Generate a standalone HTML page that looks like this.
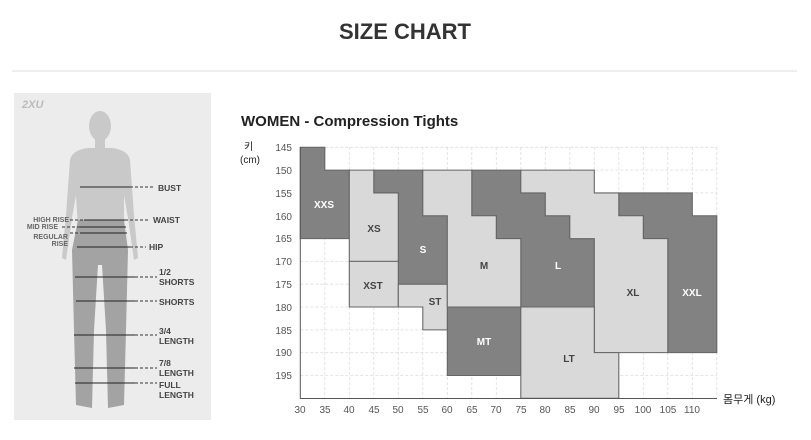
<!DOCTYPE html>
<html><head><meta charset="utf-8"><style>
body{margin:0;width:811px;height:435px;background:#fff;overflow:hidden;font-family:"Liberation Sans","Noto Sans CJK KR",sans-serif}
</style></head><body>
<svg width="811" height="435" xmlns="http://www.w3.org/2000/svg" font-family="Liberation Sans, Noto Sans CJK KR, sans-serif">
<text x="405" y="39" text-anchor="middle" font-size="22" font-weight="bold" fill="#333">SIZE CHART</text>
<line x1="12" y1="71" x2="797" y2="71" stroke="#ddd"/>
<!-- figure panel -->
<rect x="14" y="93" width="197" height="327" fill="#ececec"/>
<text x="22" y="108" font-size="11" font-style="italic" fill="#bbb" font-weight="bold">2XU</text>
<g fill="#c9c9c9">
<ellipse cx="100" cy="126" rx="11" ry="15"/>
<rect x="95" y="138" width="10" height="12"/>
<path d="M70 160 Q72 150 88 148 L112 148 Q128 150 130 160 L134 215 L138 258 L134 260 L128 218 L124 195 L124 230 L78 230 L76 195 L72 218 L66 260 L62 258 L66 215 Z"/>
</g>
<path d="M78 220 L124 220 L128 250 L126 330 L124 405 L108 408 L106 330 L102 265 L98 265 L94 330 L92 408 L76 405 L74 330 L72 250 Z" fill="#a3a3a3"/>
<g stroke="#222" stroke-width="1">
<line x1="80" y1="187" x2="130" y2="187"/><line x1="84" y1="220" x2="125" y2="220"/>
<line x1="80" y1="227" x2="126" y2="227"/><line x1="80" y1="233" x2="127" y2="233"/>
<line x1="77" y1="247" x2="130" y2="247"/><line x1="75" y1="277" x2="135" y2="277"/>
<line x1="76" y1="301" x2="135" y2="301"/><line x1="74" y1="335" x2="135" y2="335"/>
<line x1="74" y1="368" x2="135" y2="368"/><line x1="75" y1="383" x2="135" y2="383"/>
</g>
<g stroke="#333" stroke-dasharray="3,2">
<line x1="130" y1="187" x2="155" y2="187"/><line x1="125" y1="220" x2="150" y2="220"/>
<line x1="130" y1="247" x2="146" y2="247"/><line x1="135" y1="277" x2="157" y2="277"/>
<line x1="135" y1="301" x2="157" y2="301"/><line x1="135" y1="335" x2="157" y2="335"/>
<line x1="135" y1="368" x2="157" y2="368"/><line x1="135" y1="383" x2="157" y2="383"/>
<line x1="70" y1="220" x2="84" y2="220"/><line x1="62" y1="227" x2="80" y2="227"/><line x1="70" y1="233" x2="80" y2="233"/>
</g>
<g font-size="8.5" font-weight="bold" fill="#444">
<text x="158" y="191">BUST</text><text x="153" y="223">WAIST</text><text x="149" y="250">HIP</text>
<text x="159" y="275">1/2</text><text x="159" y="285">SHORTS</text><text x="159" y="305">SHORTS</text>
<text x="159" y="334">3/4</text><text x="159" y="344">LENGTH</text>
<text x="159" y="366">7/8</text><text x="159" y="376">LENGTH</text>
<text x="159" y="388">FULL</text><text x="159" y="398">LENGTH</text>
<g font-size="7" fill="#666" text-anchor="end"><text x="69" y="222">HIGH RISE</text><text x="58" y="229">MID RISE</text><text x="68" y="239">REGULAR</text><text x="68" y="246">RISE</text></g>
</g>
<text x="241" y="126" font-size="15" font-weight="bold" fill="#222">WOMEN - Compression Tights</text>
<text x="244" y="150" font-size="10" fill="#222">키</text>
<text x="240" y="163" font-size="10" fill="#222">(cm)</text>
<!-- grid -->
<g stroke="#ddd" stroke-dasharray="3,2" stroke-width="0.8">
<line x1="300.3" y1="147.3" x2="716.8" y2="147.3"/><line x1="300.3" y1="170.1" x2="716.8" y2="170.1"/><line x1="300.3" y1="192.9" x2="716.8" y2="192.9"/><line x1="300.3" y1="215.8" x2="716.8" y2="215.8"/><line x1="300.3" y1="238.6" x2="716.8" y2="238.6"/><line x1="300.3" y1="261.4" x2="716.8" y2="261.4"/><line x1="300.3" y1="284.2" x2="716.8" y2="284.2"/><line x1="300.3" y1="307.0" x2="716.8" y2="307.0"/><line x1="300.3" y1="329.9" x2="716.8" y2="329.9"/><line x1="300.3" y1="352.7" x2="716.8" y2="352.7"/><line x1="300.3" y1="375.5" x2="716.8" y2="375.5"/>
<line x1="324.8" y1="147" x2="324.8" y2="398"/><line x1="349.3" y1="147" x2="349.3" y2="398"/><line x1="373.8" y1="147" x2="373.8" y2="398"/><line x1="398.3" y1="147" x2="398.3" y2="398"/><line x1="422.8" y1="147" x2="422.8" y2="398"/><line x1="447.3" y1="147" x2="447.3" y2="398"/><line x1="471.8" y1="147" x2="471.8" y2="398"/><line x1="496.3" y1="147" x2="496.3" y2="398"/><line x1="520.8" y1="147" x2="520.8" y2="398"/><line x1="545.3" y1="147" x2="545.3" y2="398"/><line x1="569.8" y1="147" x2="569.8" y2="398"/><line x1="594.3" y1="147" x2="594.3" y2="398"/><line x1="618.8" y1="147" x2="618.8" y2="398"/><line x1="643.3" y1="147" x2="643.3" y2="398"/><line x1="667.8" y1="147" x2="667.8" y2="398"/><line x1="692.3" y1="147" x2="692.3" y2="398"/><line x1="716.8" y1="147" x2="716.8" y2="398"/>
</g>
<g transform="translate(300.3,147.3) scale(4.9,4.5636) translate(-30,-145)" stroke="#666" stroke-width="0.22">
<g fill="#828282">
<polygon points="30,145 35,145 35,150 40,150 40,165 30,165"/>
<polygon points="45,150 55,150 55,160 60,160 60,175 50,175 50,155 45,155"/>
<polygon points="60,180 75,180 75,195 60,195"/>
<polygon points="65,150 75,150 75,155 80,155 80,160 85,160 85,165 90,165 90,180 75,180 75,165 70,165 70,160 65,160"/>
<polygon points="95,155 110,155 110,160 115,160 115,190 105,190 105,165 100,165 100,160 95,160"/>
</g>
<g fill="#d9d9d9">
<polygon points="40,150 45,150 45,155 50,155 50,170 40,170"/>
<polygon points="40,170 50,170 50,180 40,180"/>
<polygon points="50,175 60,175 60,185 55,185 55,180 50,180"/>
<polygon points="55,150 65,150 65,160 70,160 70,165 75,165 75,180 60,180 60,160 55,160"/>
<polygon points="75,150 90,150 90,155 95,155 95,160 100,160 100,165 105,165 105,190 90,190 90,165 85,165 85,160 80,160 80,155 75,155"/>
<polygon points="75,180 90,180 90,190 95,190 95,200 75,200"/>
</g>
</g>
<g stroke="#555" stroke-width="1"><line x1="300.3" y1="147" x2="300.3" y2="398.5"/><line x1="300" y1="398.5" x2="717" y2="398.5"/></g>
<g font-size="10" font-weight="bold" text-anchor="middle">
<g fill="#fff"><text x="324" y="208">XXS</text><text x="423" y="253">S</text><text x="484" y="345">MT</text><text x="558" y="269">L</text><text x="692" y="296">XXL</text></g>
<g fill="#444"><text x="374" y="232">XS</text><text x="373" y="289">XST</text><text x="435" y="305">ST</text><text x="484" y="269">M</text><text x="569" y="362">LT</text><text x="633" y="296">XL</text></g>
</g>
<g font-size="10" fill="#555" text-anchor="end">
<text x="292" y="151">145</text><text x="292" y="174">150</text><text x="292" y="197">155</text><text x="292" y="220">160</text><text x="292" y="242">165</text><text x="292" y="265">170</text><text x="292" y="288">175</text><text x="292" y="311">180</text><text x="292" y="334">185</text><text x="292" y="356">190</text><text x="292" y="379">195</text>
</g>
<g font-size="10" fill="#555" text-anchor="middle">
<text x="300" y="413">30</text><text x="325" y="413">35</text><text x="349" y="413">40</text><text x="374" y="413">45</text><text x="398" y="413">50</text><text x="423" y="413">55</text><text x="447" y="413">60</text><text x="472" y="413">65</text><text x="496" y="413">70</text><text x="521" y="413">75</text><text x="545" y="413">80</text><text x="570" y="413">85</text><text x="594" y="413">90</text><text x="619" y="413">95</text><text x="643" y="413">100</text><text x="668" y="413">105</text><text x="692" y="413">110</text>
</g>
<text x="723" y="403" font-size="11" fill="#222">몸무게 (kg)</text>
</svg>
</body></html>
